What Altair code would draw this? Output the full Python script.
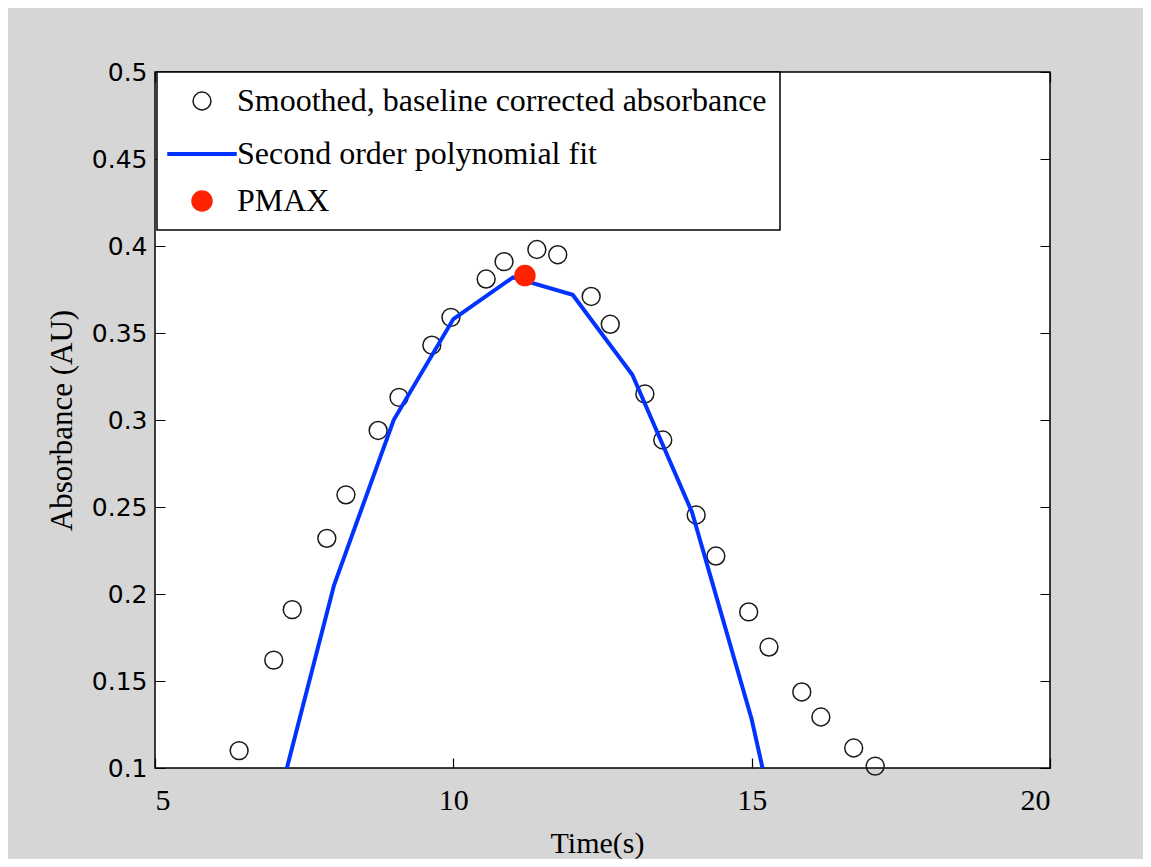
import altair as alt
import pandas as pd

# ---------------- data ----------------
series_names = [
    "Smoothed, baseline corrected absorbance",
    "Second order polynomial fit",
    "PMAX",
]

time_pts = [6.41, 6.99, 7.30, 7.88, 8.20, 8.74, 9.09, 9.64, 9.96, 10.55, 10.85,
            11.40, 11.75, 12.31, 12.63, 13.21, 13.51, 14.07, 14.40, 14.95, 15.29,
            15.84, 16.16, 16.71, 17.07]
abs_pts = [0.110, 0.162, 0.191, 0.232, 0.257, 0.294, 0.313, 0.343, 0.359, 0.381, 0.391,
           0.398, 0.395, 0.371, 0.355, 0.315, 0.2885, 0.2454, 0.2218, 0.1897, 0.1695,
           0.1437, 0.1293, 0.1115, 0.1011]

fit_time = [7, 8, 9, 10, 11, 12, 13, 14, 15, 16]
fit_abs = [0.072, 0.205, 0.300, 0.358, 0.382, 0.372, 0.326, 0.247, 0.128, -0.026]

pmax_time = [11.20]
pmax_abs = [0.383]

x_ticks = [5, 10, 15, 20]
y_ticks = [0.1, 0.15, 0.2, 0.25, 0.3, 0.35, 0.4, 0.45, 0.5]

df_pts = pd.DataFrame({"t": time_pts, "a": abs_pts, "series": series_names[0]})
df_fit = pd.DataFrame({"t": fit_time, "a": fit_abs, "series": series_names[1]})
df_pmax = pd.DataFrame({"t": pmax_time, "a": pmax_abs, "series": series_names[2]})

W, H = 895, 696
SERIF = "Liberation Serif"

x_enc = alt.X(
    "t:Q",
    scale=alt.Scale(domain=[5, 20], nice=False, zero=False),
    axis=alt.Axis(
        values=x_ticks, format="d", title="Time(s)",
        titleFont=SERIF, titleFontSize=30, titleFontWeight="normal", titleColor="black",
        titleX=442, titleY=84, titleBaseline="alphabetic", titleAlign="center",
        labelFont=SERIF, labelFontSize=30, labelColor="black", labelPadding=17,
        ticks=False, tickSize=0, domain=False,
        grid=True, gridColor="black", gridOpacity=1, gridWidth=1.2, gridDash=[10, H - 20],
    ),
)
y_enc = alt.Y(
    "a:Q",
    scale=alt.Scale(domain=[0.1, 0.5], nice=False, zero=False),
    axis=alt.Axis(
        values=y_ticks, format=".2~f", title="Absorbance (AU)",
        titleFont=SERIF, titleFontSize=31, titleFontWeight="normal", titleColor="black",
        titleX=-93, titleY=348, titleBaseline="middle", titleAlign="center", titleAngle=270,
        labelFont="DejaVu Sans", labelFontSize=25, labelColor="black", labelPadding=8,
        ticks=False, tickSize=0, domain=False,
        grid=True, gridColor="black", gridOpacity=1, gridWidth=1.2, gridDash=[10, W - 20],
    ),
)

legend = alt.Legend(
    title=None, orient="none", legendX=2, legendY=0,
    labelFont=SERIF, labelFontSize=32, labelColor="black", labelLimit=800,
    labelOffset=13, padding=13, rowPadding=15, symbolOffset=10,
    strokeColor="black", fillColor="white",
    symbolStrokeWidth=1.5, symbolOpacity=1,
)

stroke_scale = alt.Scale(domain=series_names, range=["#1a1a1a", "#0033ff", "#ff2200"])
fill_scale = alt.Scale(domain=series_names, range=["transparent", "#0033ff", "#ff2200"])
shape_scale = alt.Scale(domain=series_names,
                        range=["circle", "M-1.6,-0.061H1.6V0.061H-1.6Z", "circle"])
size_scale = alt.Scale(type="ordinal", domain=series_names, range=[320, 1806, 400])

def series_enc(ch):
    return ch("series:N", scale={
        "stroke": stroke_scale, "fill": fill_scale,
        "shape": shape_scale, "size": size_scale,
    }[ch.__name__.lower()], legend=legend)

points = alt.Chart(df_pts).mark_point(filled=False, strokeWidth=1.5, opacity=1).encode(
    x=x_enc, y=y_enc,
    stroke=series_enc(alt.Stroke), fill=series_enc(alt.Fill),
    shape=series_enc(alt.Shape), size=series_enc(alt.Size),
)

fit = alt.Chart(df_fit).mark_line(strokeWidth=4, clip=True).encode(
    x=x_enc, y=y_enc,
    stroke=series_enc(alt.Stroke),
)

pmax = alt.Chart(df_pmax).mark_point(filled=True, strokeWidth=1.5, opacity=1).encode(
    x=x_enc, y=y_enc,
    stroke=series_enc(alt.Stroke), fill=series_enc(alt.Fill),
    shape=series_enc(alt.Shape), size=series_enc(alt.Size),
)

chart = alt.layer(points, fit, pmax).properties(
    width=W, height=H,
    autosize=alt.AutoSizeParams(type="none"),
    padding={"left": 147, "top": 64, "right": 93, "bottom": 91},
    background="#d6d6d6",
).configure_view(
    stroke="black", strokeWidth=1.5, fill="white"
).configure_legend(
    strokeWidth=1.5
)

chart.save("out.html", embed_options={"renderer": "svg", "actions": False})
